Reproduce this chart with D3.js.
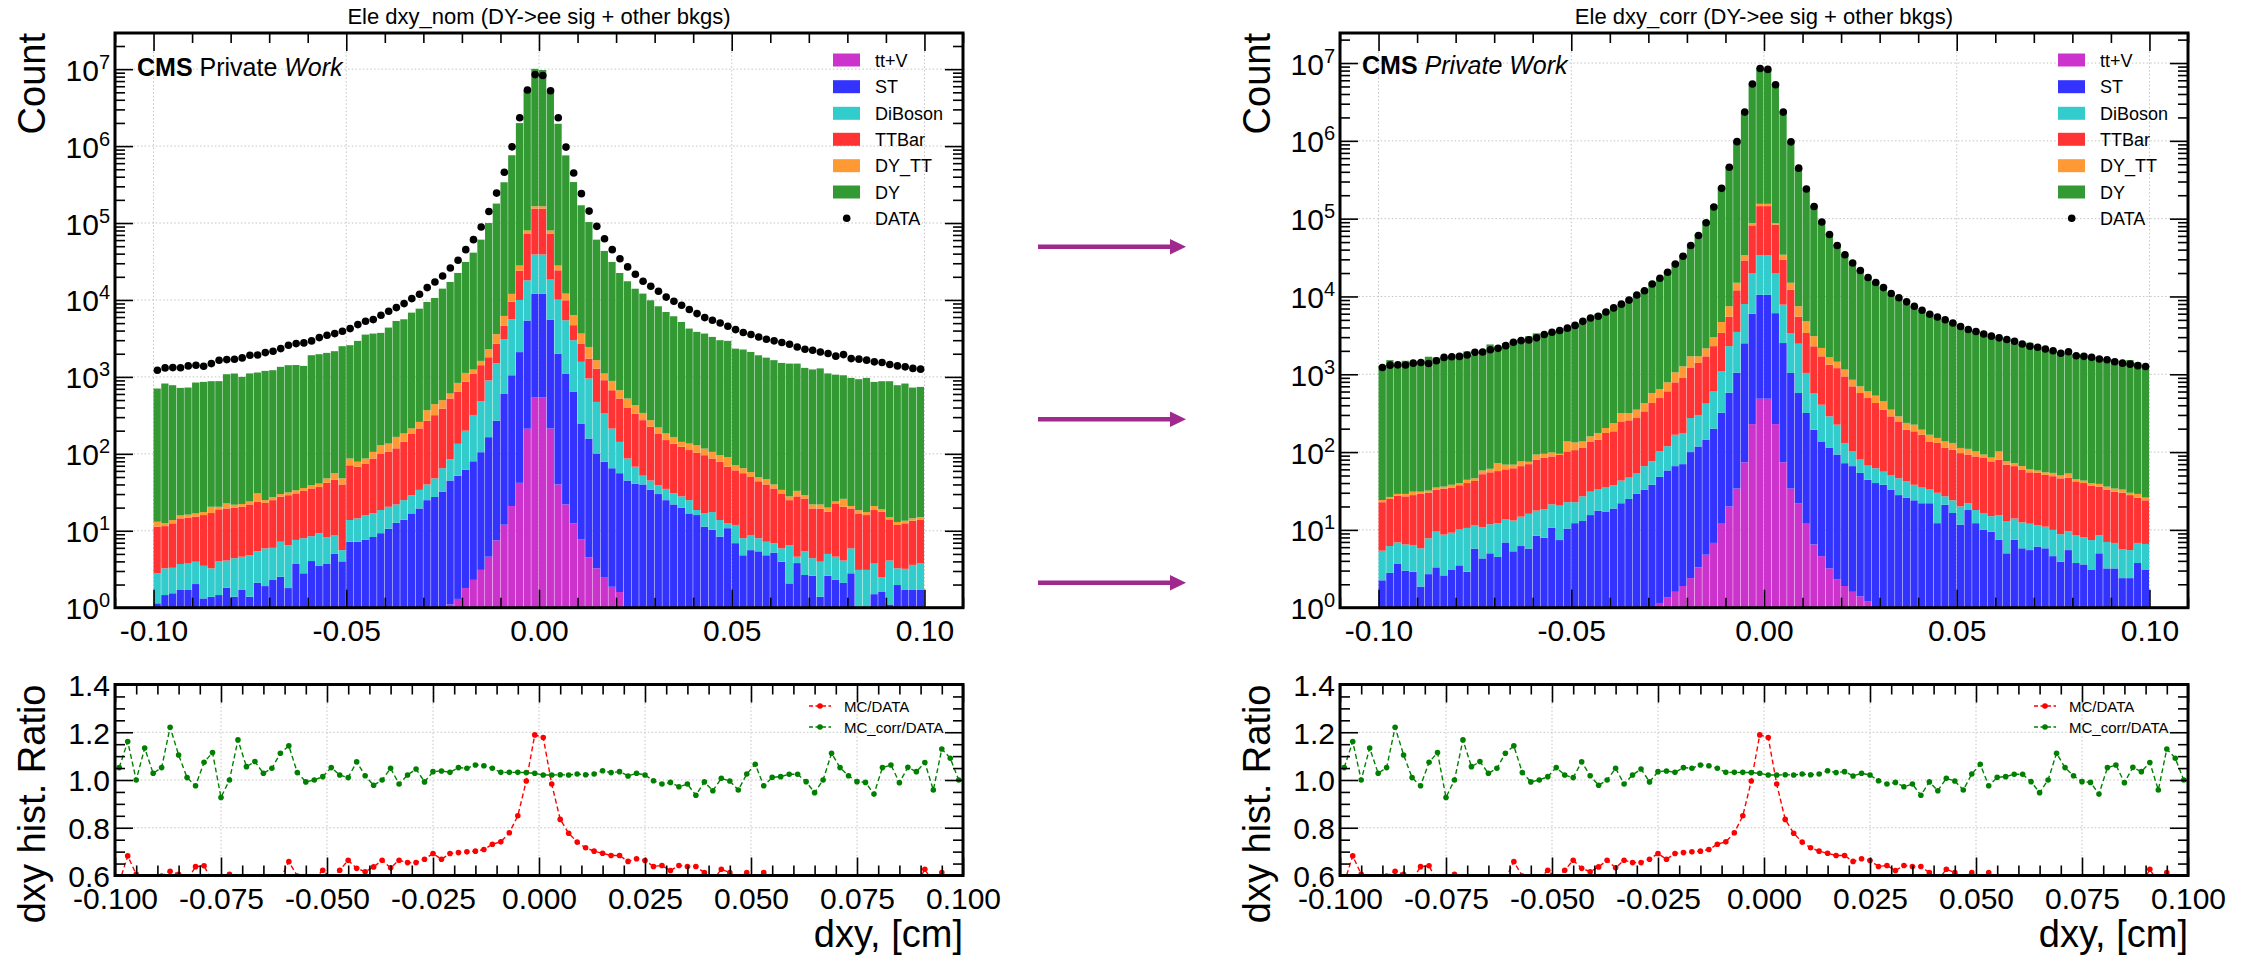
<!DOCTYPE html>
<html><head><meta charset="utf-8">
<script src="https://cdn.jsdelivr.net/npm/d3@7"></script>
<style>
body{margin:0;background:#fff;}
svg{display:block;}
text{font-family:"Liberation Sans",Arial,Helvetica,sans-serif;fill:#000;}
</style>
</head><body>
<svg id="chart" width="2252" height="960"></svg>
<script>
// ---------------- data ----------------
const binLo = -0.1, binHi = 0.1, nBins = 100;
const seriesNames = ["tt+V","ST","DiBoson","TTBar","DY_TT","DY"];
const seriesColors = ["#cc33cc","#3333ff","#33cccc","#ff3333","#ff9933","#339933"];
const legendLabels = ["tt+V","ST","DiBoson","TTBar","DY_TT","DY","DATA"];
const ratioLegendLabels = ["MC/DATA","MC_corr/DATA"];
const titles = ["Ele dxy_nom (DY->ee sig + other bkgs)","Ele dxy_corr (DY->ee sig + other bkgs)"];
const topXTicks = [-0.10,-0.05,0.00,0.05,0.10];
const topYTickExponents = [0,1,2,3,4,5,6,7];
const ratioXTicks = [-0.100,-0.075,-0.050,-0.025,0.000,0.025,0.050,0.075,0.100];
const ratioYTicks = [0.6,0.8,1.0,1.2,1.4];

const dataCounts = [
1222,1309,1321,1315,1390,1419,1377,1489,1648,1679,
1698,1766,1914,1930,2070,2153,2333,2582,2710,2767,
2938,3243,3475,3656,3917,4246,4786,5284,5559,6324,
7129,7962,8974,10423,11858,14488,17140,20512,26062,32810,
45082,60814,88716,141000,245000,457000,977000,2340000,5370000,8500000,
8280000,5250000,2340000,970000,446000,241000,143000,90600,62600,45100,
34400,26900,21600,17500,15100,13000,10900,9620,8530,7500,
6650,5900,5450,5020,4550,4120,3770,3550,3300,3090,
2940,2800,2660,2450,2290,2220,2110,2010,1860,1950,
1730,1700,1650,1570,1540,1450,1390,1350,1290,1260];

// nominal MC
const nomTTV = [
0,0,0,0,0,0,0,0,0,0,
0,0,0,0,0,0,0,0,0,0,
0,0,0,0,0,0,0,0,0,0,
0,0,0,0,0,0,0,0,1.1,1.3,
1.8,2.3,3.1,4.6,7.5,12,21,42,212,545,
540,214,40,22,12.5,7.7,4.5,3.25,2.5,1.87,
1.6,0,0,0,0,0,0,0,0,0,
0,0,0,0,0,0,0,0,0,0,
0,0,0,0,0,0,0,0,0,0,
0,0,0,0,0,0,0,0,0,0];
const nomST = [
1.14,1.46,1.54,1.7,1.7,2.03,1.32,1.39,1.46,1.82,
1.39,1.7,1.39,2.11,1.91,2.29,2.53,1.8,3.7,2.8,
4.04,3.48,3.7,5.0,4.0,7.2,7.2,7.6,8.3,9.3,
10.6,12.7,13.9,16.8,19.5,25,27.5,32,43.9,50.7,
60.2,77.7,101.9,160,262,588,1029,2058,5188,11555,
11560,5346,1970,1085,625,240,153.5,97.8,76.5,63.1,
54.4,45,41,40,34,30,25,22,20,16.8,
16,11.3,10.3,8.4,10.8,6.9,4.8,5.6,5.4,4.8,
5.2,3.96,2.07,3.8,2.66,2.6,1.39,2.6,2.3,2.1,
2.8,0,0.5,1.5,1.6,1.1,1.97,1.7,1.7,1.7];
const nomDiBoson = [
1.66,1.79,1.76,2.0,2.05,1.93,2.18,1.86,2.58,2.28,
3.01,2.9,3.41,3.29,3.99,3.71,4.67,4.7,3.9,5.2,
4.46,5.82,4.5,3.8,1.6,6.6,7.3,8.4,8.5,9.3,
9.9,9.3,11.1,12.2,14.5,15,20.5,33,40,83,
138,240,375,735,1230,2500,4550,7900,12600,26900,
26900,12840,8090,4343,2362,1322,795,372,255,148,
87,42,27,12,11,9,10,8.6,8,8.2,
2.6,5.5,7.2,5.4,1.8,5.0,3.2,3.2,2.6,2.4,
1.7,1.94,4.43,0.8,2.74,1.8,2.57,2.4,2.3,2.0,
3.1,3.1,2.6,2.25,0.9,3.0,1.28,1.5,1.9,2.05];
const nomTTBar = [
8.5,8.25,9.2,10.8,11.05,11.34,12.5,13.75,14.96,15.4,
15.6,15.9,17.2,18.6,17.1,19.0,20.5,22.5,23.0,25.0,
27.0,27.7,33.8,37.2,34.4,57.2,53.5,59,70.2,82.4,
85.5,96,118,155,180,229,270,323,439,505,
663,787,940,900,1200,1500,3900,14000,54000,115000,
115000,54600,14200,4450,1700,1145,777,810,572,458,
381,313,266,222,179,145,116,105,96,87,
84.4,79.2,69.5,65.2,55.4,49.1,48,41.2,36,32.8,
28.6,24.7,18.5,23.4,20.9,15.1,15.5,12.7,18.1,16.4,
13.6,13.7,12.9,14.85,15.2,9.7,8.65,9.3,9.9,10.05];
const nomDYTT = [
1.8,1.0,1.3,1.3,1.4,1.5,1.5,3.5,1.5,3.2,
1.8,1.8,2.0,6.6,2.0,2.3,2.3,2.5,2.9,3.0,
3.5,4.0,6.0,10,8,16,11,12,19,29,
30,48,41,30,46,100,124,110,84,196,
264,138,194,500,900,1600,2500,4000,8000,11000,
11000,7000,3700,2200,1640,945,720,365,201,216,
147,124,95,66,50,36,33,30,19,24,
27,21,19,17,23,10,9,8,6,7,
4.5,3.4,3,5,2.7,2.5,2.5,2.3,1.3,5.5,
1.5,1.7,1.5,2.4,1.3,1.2,1.1,1.0,1.0,1.2];
const nomDY = [
693,808,766,704,711,828,844,859,860,1061,
1085,978,1086,1109,1172,1195,1322,1388,1392,1354,
1875,1931,2003,2102,2458,2495,2859,3461,3550,3603,
4239,5169,5426,6631,7449,9050,10175,13530,16532,21604,
30063,39965,59196,97700,175400,332800,748000,1962000,5270000,9935000,
9585000,5070000,1922000,744900,334660,166340,100550,59150,42290,30310,
21730,16976,13571,11760,9626,8060,6796,5974,5037,4114,
3720,3543,3204,2904,2849,2259,2205,2052,1860,1733,
1610,1486,1462,1457,1281,1228,1268,1090,1046,1024,
950,915,953,840,860,864,767,806,712,726];

// corrected MC
const corrTTV = [
0,0,0,0,0,0,0,0,0,0,
0,0,0,0,0,0,0,0,0,0,
0,0,0,0,0,0,0,0,0,0,
0,0,0,0,0,0,1.15,1.35,1.6,1.9,
2.4,3.3,4.8,6.8,12,20,34,74,229,485,
485,229,74,34,22,12,6.5,4.6,3.2,2.3,
1.9,1.6,1.4,1.2,0,0,0,0,0,0,
0,0,0,0,0,0,0,0,0,0,
0,0,0,0,0,0,0,0,0,0,
0,0,0,0,0,0,0,0,0,0];
const corrST = [
2.25,2.8,3.7,3.0,2.9,1.87,2.7,3.3,2.6,3.1,
3.5,2.9,5.75,4.3,5.0,4.5,6.9,5.3,6.2,5.75,
8.4,7.9,10.7,7.4,10.4,12.2,13,15.5,17.7,17,
18.8,22,25,29,33,38,46.9,56.7,64.4,68.1,
97.6,114.7,140,193,308,560,1016,2426,5771,10015,
10015,5871,2446,1006,552,306,187.5,132.4,109.8,90.7,
70.1,64.4,52.6,42.8,40,38,33,28,26,24,
22,22,12.2,21,16.5,11.7,18,12.2,10,9.5,
7.5,5.0,7.5,5.8,5.5,6.1,5.8,4.6,3.9,5.5,
3.75,3.6,3.1,5.0,3.2,3.2,2.4,2.4,3.75,3.1];
const corrDiBoson = [
3.15,3.4,3.2,3.5,3.5,3.93,5.1,6.2,6.1,6.1,
6.6,7.7,5.65,6.5,6.8,7.7,6.9,7.9,8.6,10.35,
9.3,10.6,10.6,13.1,12.3,10.5,14,15.5,15.3,18,
18.7,21,22,24,33,38,54,61,101,106,
174,182,275,400,780,1720,2450,5500,14000,23500,
23500,13900,5330,2350,1896,722,380,269,175,132,
59,36,26,23,22,18,17,18,16,14,
13,11,17.8,6,7.5,8.3,4,5.8,6.5,5.5,
8,8,6.5,6.7,6.5,5.4,5.2,5.4,4.9,4.1,
4.85,4.4,4.3,3.5,3.8,3.6,3.2,3.1,3.05,3.5];
const corrTTBar = [
17.3,18.8,20.5,20.5,21.6,23.2,22.2,23.5,25.3,25.8,
27.4,29.4,31.1,41.2,43.2,44.8,46.2,48.8,51.2,53.9,
62.3,66.5,66.7,71.5,79.3,83.3,86,106,111,141,
147.5,205,209,221,268,351,393,485,621,719,
931,1100,1280,1700,2300,3200,8500,21000,62000,111000,
111000,64000,21850,8810,3030,2350,1716,1294,1042,975,
809,598,494,428,365,295,238,202,152,147,
132,104,101,86,83,77,71,70,67.5,61,
64.5,56,52,46.5,43,42.5,40,39,37.2,37.4,
33.4,32,29.6,27.5,26,24.2,24.4,22.5,19.2,17.4];
const corrDYTT = [
1.5,1.5,1.6,2.0,3.0,2.0,2.0,2.0,2.0,3.0,
2.5,4.0,3.5,6.0,6.0,15,9,7,10,5,
13,10,11,3,35,27,24,22,32,28,
51,70,62,77,93,148,152,184,271,370,
495,300,450,700,1300,2000,3000,5000,6000,10000,
10000,4000,4700,2800,2000,1400,800,480,320,250,
210,150,126,108,104,98,63,40,43,40,
27,30,21,24,24,16,17,14,9,9,
22,7,6,7,5,4,4,5,4,6,
3,3,3,3,3,3,3,2,3,2];
const corrDY = [
1262,1494,1292,1462,1398,1462,1649,1610,1628,1601,
1784,1925,1728,1872,2357,2202,2444,2585,2767,3002,
3265,3249,3348,3561,3835,4334,4749,5178,5805,6234,
6736,7644,9096,9895,11680,14579,16356,20442,25993,32595,
45726,62094,92155,146460,252300,464100,993000,2381000,5448000,8583000,
8299000,5272000,2357000,975000,449650,241500,143480,91950,62890,45230,
33835,26800,21354,16845,14312,12421,10244,9168,7747,7215,
6157,5774,5276,4672,4533,4279,3570,3487,3253,3079,
2909,2704,2447,2384,2486,2277,2093,1942,1791,1782,
1775,1764,1592,1614,1558,1522,1299,1496,1378,1234];

// ratio panel series
const ratioMC = [
0.57,0.682,0.605,0.56,0.58,0.598,0.618,0.605,0.58,0.637,
0.641,0.57,0.58,0.605,0.56,0.57,0.58,0.56,0.575,0.585,
0.658,0.598,0.57,0.585,0.622,0.59,0.622,0.664,0.63,0.616,
0.636,0.664,0.632,0.664,0.654,0.654,0.668,0.692,0.668,0.692,
0.696,0.699,0.702,0.709,0.731,0.741,0.779,0.85,0.996,1.189,
1.178,0.983,0.835,0.777,0.74,0.716,0.702,0.693,0.684,0.684,
0.659,0.67,0.663,0.638,0.642,0.621,0.642,0.638,0.638,0.612,
0.58,0.626,0.612,0.59,0.612,0.585,0.612,0.58,0.57,0.575,
0.56,0.57,0.585,0.57,0.565,0.58,0.575,0.56,0.57,0.56,
0.57,0.565,0.58,0.575,0.56,0.626,0.57,0.612,0.58,0.59];
const ratioMCcorr = [
1.052,1.161,1.0,1.134,1.028,1.052,1.221,1.105,1.01,0.976,
1.074,1.115,0.927,1.0,1.168,1.056,1.077,1.028,1.049,1.112,
1.143,1.031,0.992,1.0,1.014,1.052,1.021,1.01,1.076,1.018,
0.978,1.0,1.049,0.983,1.021,1.046,0.992,1.035,1.038,1.032,
1.052,1.049,1.063,1.06,1.049,1.032,1.032,1.032,1.031,1.028,
1.021,1.021,1.022,1.021,1.025,1.022,1.025,1.039,1.031,1.035,
1.017,1.028,1.021,0.997,0.983,0.99,0.972,0.983,0.936,0.992,
0.955,1.007,0.996,0.958,1.025,1.066,0.976,1.011,1.014,1.024,
1.024,0.993,0.947,1.0,1.112,1.052,1.018,0.993,0.99,0.941,
1.052,1.063,0.989,1.053,1.035,1.073,0.958,1.13,1.091,1.0];

// ---------------- drawing ----------------
const svg = d3.select("#chart");
svg.append("rect").attr("width",2252).attr("height",960).attr("fill","#fff");

const edges = d3.range(nBins + 1).map(i => binLo + i * (binHi - binLo) / nBins);
const centers = d3.range(nBins).map(i => (edges[i] + edges[i + 1]) / 2);

function drawPanel(cfg) {
  const g = svg.append("g").attr("transform", `translate(${cfg.ox},0)`);
  const T = {l: 115, r: 963, t: 33, b: 607.7};
  const R = {l: 115, r: 963, t: 684.5, b: 875.5};
  const x = d3.scaleLinear().domain([-0.11, 0.11]).range([T.l, T.r]);
  const y = d3.scaleLog().domain([1, Math.pow(10, cfg.yTopExp)]).range([T.b, T.t]).clamp(true);
  const ly = v => y(Math.max(v, 1e-6));
  const xr = d3.scaleLinear().domain([-0.1, 0.1]).range([R.l, R.r]);
  const yr = d3.scaleLinear().domain([0.6, 1.4]).range([R.b, R.t]);

  const defs = g.append("defs");
  defs.append("clipPath").attr("id", "ct" + cfg.id).append("rect")
    .attr("x", T.l).attr("y", T.t).attr("width", T.r - T.l).attr("height", T.b - T.t);
  defs.append("clipPath").attr("id", "cr" + cfg.id).append("rect")
    .attr("x", R.l).attr("y", R.t).attr("width", R.r - R.l).attr("height", R.b - R.t);

  const gridStyle = sel => sel.attr("stroke", "#c4c4c4").attr("stroke-width", 1).attr("stroke-dasharray", "1.5,2.2");

  // ---- top grid
  topXTicks.forEach(v => g.append("line").attr("x1", x(v)).attr("x2", x(v)).attr("y1", T.t).attr("y2", T.b).call(gridStyle));
  topYTickExponents.forEach(e => g.append("line").attr("x1", T.l).attr("x2", T.r).attr("y1", y(Math.pow(10, e))).attr("y2", y(Math.pow(10, e))).call(gridStyle));

  // ---- stacked bars
  const rows = d3.range(nBins).map(i => {
    const o = {i};
    seriesNames.forEach((n, k) => o[n] = cfg.series[k][i]);
    return o;
  });
  const stacked = d3.stack().keys(seriesNames)(rows);
  const barG = g.append("g").attr("clip-path", `url(#ct${cfg.id})`);
  stacked.forEach((layer, k) => {
    barG.append("g").selectAll("rect").data(layer).join("rect")
      .attr("x", d => x(edges[d.data.i]))
      .attr("width", d => x(edges[d.data.i + 1]) - x(edges[d.data.i]) - 0.45)
      .attr("y", d => ly(d[1]))
      .attr("height", d => Math.max(0, ly(d[0]) - ly(d[1])))
      .attr("fill", seriesColors[k]);
  });

  // ---- data points
  g.append("g").attr("clip-path", `url(#ct${cfg.id})`).selectAll("circle").data(dataCounts).join("circle")
    .attr("cx", (d, i) => x(centers[i])).attr("cy", d => ly(d)).attr("r", 3.8).attr("fill", "#000");

  // ---- top ticks (inward, all four sides)
  const majorLen = 18, minorLen = 10;
  const minorX = d3.range(-11, 12).map(k => k / 100).filter(v => !topXTicks.some(t => Math.abs(t - v) < 1e-9));
  const styleAxis = (sel) => { sel.select(".domain").remove(); sel.selectAll("line").attr("stroke", "#000").attr("stroke-width", 1.6); };
  g.append("g").attr("transform", `translate(0,${T.b})`)
    .call(d3.axisBottom(x).tickValues(topXTicks).tickSize(-majorLen).tickPadding(12).tickFormat(v => v.toFixed(2)))
    .call(styleAxis).call(s => s.selectAll("text").attr("font-size", 30).attr("font-family", "Liberation Sans, Arial, sans-serif").attr("fill", "#000"));
  g.append("g").attr("transform", `translate(0,${T.b})`)
    .call(d3.axisBottom(x).tickValues(minorX).tickSize(-minorLen).tickFormat("")).call(styleAxis);
  g.append("g").attr("transform", `translate(0,${T.t})`)
    .call(d3.axisTop(x).tickValues(topXTicks).tickSize(-majorLen).tickFormat("")).call(styleAxis);
  g.append("g").attr("transform", `translate(0,${T.t})`)
    .call(d3.axisTop(x).tickValues(minorX).tickSize(-minorLen).tickFormat("")).call(styleAxis);

  const yMajor = topYTickExponents.map(e => Math.pow(10, e));
  const yMinor = [];
  for (let e = 0; e <= 7; e++) for (let m = 2; m <= 9; m++) { const v = m * Math.pow(10, e); if (v <= Math.pow(10, cfg.yTopExp)) yMinor.push(v); }
  [["axisLeft", T.l], ["axisRight", T.r]].forEach(([fn, px]) => {
    g.append("g").attr("transform", `translate(${px},0)`)
      .call(d3[fn](y).tickValues(yMajor).tickSize(-majorLen).tickFormat("")).call(styleAxis);
    g.append("g").attr("transform", `translate(${px},0)`)
      .call(d3[fn](y).tickValues(yMinor).tickSize(-minorLen).tickFormat("")).call(styleAxis);
  });
  topYTickExponents.forEach(e => {
    const t = g.append("text").attr("x", T.l - 5).attr("y", y(Math.pow(10, e)) + 11.5)
      .attr("text-anchor", "end").attr("font-size", 30);
    t.append("tspan").text("10");
    t.append("tspan").attr("dy", -12).attr("font-size", 20).text(e);
  });

  // frame
  g.append("rect").attr("x", T.l).attr("y", T.t).attr("width", T.r - T.l).attr("height", T.b - T.t)
    .attr("fill", "none").attr("stroke", "#000").attr("stroke-width", 3);

  // title
  g.append("text").attr("x", (T.l + T.r) / 2).attr("y", 24).attr("text-anchor", "middle")
    .attr("font-size", 22).text(cfg.title);

  // CMS label
  const cms = g.append("text").attr("x", 137).attr("y", cfg.cmsY).attr("font-size", 25);
  cms.append("tspan").attr("font-weight", "bold").text("CMS");
  if (cfg.italicPrivate) {
    cms.append("tspan").attr("font-style", "italic").text(" Private Work");
  } else {
    cms.append("tspan").text(" Private ");
    cms.append("tspan").attr("font-style", "italic").text("Work");
  }

  // y label
  g.append("text").attr("transform", `translate(45,${T.t}) rotate(-90)`).attr("text-anchor", "end")
    .attr("font-size", 38).text("Count");

  // legend
  const legRows = [60, 86.7, 113.3, 139.3, 165.7, 192, 218.3];
  const legOrder = [0, 1, 2, 3, 4, 5];
  legOrder.forEach((k, r) => {
    g.append("rect").attr("x", 833).attr("y", legRows[r] - 6.5).attr("width", 27).attr("height", 13).attr("fill", seriesColors[k]);
    g.append("text").attr("x", 875).attr("y", legRows[r] + 6.5).attr("font-size", 18).text(legendLabels[r]);
  });
  g.append("circle").attr("cx", 846.7).attr("cy", legRows[6]).attr("r", 3.8).attr("fill", "#000");
  g.append("text").attr("x", 875).attr("y", legRows[6] + 6.5).attr("font-size", 18).text(legendLabels[6]);

  // ================= ratio =================
  ratioXTicks.forEach(v => g.append("line").attr("x1", xr(v)).attr("x2", xr(v)).attr("y1", R.t).attr("y2", R.b).call(gridStyle));
  ratioYTicks.forEach(v => g.append("line").attr("x1", R.l).attr("x2", R.r).attr("y1", yr(v)).attr("y2", yr(v)).call(gridStyle));

  const rG = g.append("g").attr("clip-path", `url(#cr${cfg.id})`);
  const ratioSeries = [[ratioMC, "#ff0000"], [ratioMCcorr, "#008000"]];
  const line = d3.line().x((d, i) => xr(centers[i])).y(d => yr(d));
  ratioSeries.forEach(([arr, col]) => {
    rG.append("path").datum(arr).attr("d", line).attr("fill", "none").attr("stroke", col)
      .attr("stroke-width", 1.4).attr("stroke-dasharray", "5,3");
    rG.append("g").selectAll("circle").data(arr).join("circle")
      .attr("cx", (d, i) => xr(centers[i])).attr("cy", d => yr(d)).attr("r", 2.8).attr("fill", col);
  });

  const rMinorX = d3.range(-20, 21).map(k => k * 0.005).filter(v => !ratioXTicks.some(t => Math.abs(t - v) < 1e-9));
  const rMinorY = d3.range(12, 29).map(k => k * 0.05).filter(v => !ratioYTicks.some(t => Math.abs(t - v) < 1e-9));
  g.append("g").attr("transform", `translate(0,${R.b})`)
    .call(d3.axisBottom(xr).tickValues(ratioXTicks).tickSize(-majorLen).tickPadding(12).tickFormat(v => v.toFixed(3)))
    .call(styleAxis).call(s => s.selectAll("text").attr("font-size", 30).attr("font-family", "Liberation Sans, Arial, sans-serif").attr("fill", "#000"));
  g.append("g").attr("transform", `translate(0,${R.b})`)
    .call(d3.axisBottom(xr).tickValues(rMinorX).tickSize(-minorLen).tickFormat("")).call(styleAxis);
  g.append("g").attr("transform", `translate(0,${R.t})`)
    .call(d3.axisTop(xr).tickValues(ratioXTicks).tickSize(-majorLen).tickFormat("")).call(styleAxis);
  g.append("g").attr("transform", `translate(0,${R.t})`)
    .call(d3.axisTop(xr).tickValues(rMinorX).tickSize(-minorLen).tickFormat("")).call(styleAxis);
  g.append("g").attr("transform", `translate(${R.l},0)`)
    .call(d3.axisLeft(yr).tickValues(ratioYTicks).tickSize(-majorLen).tickPadding(5).tickFormat(v => v.toFixed(1)))
    .call(styleAxis).call(s => s.selectAll("text").attr("font-size", 30).attr("font-family", "Liberation Sans, Arial, sans-serif").attr("fill", "#000").attr("dy", "0.36em"));
  g.append("g").attr("transform", `translate(${R.l},0)`)
    .call(d3.axisLeft(yr).tickValues(rMinorY).tickSize(-minorLen).tickFormat("")).call(styleAxis);
  g.append("g").attr("transform", `translate(${R.r},0)`)
    .call(d3.axisRight(yr).tickValues(ratioYTicks).tickSize(-majorLen).tickFormat("")).call(styleAxis);
  g.append("g").attr("transform", `translate(${R.r},0)`)
    .call(d3.axisRight(yr).tickValues(rMinorY).tickSize(-minorLen).tickFormat("")).call(styleAxis);

  g.append("rect").attr("x", R.l).attr("y", R.t).attr("width", R.r - R.l).attr("height", R.b - R.t)
    .attr("fill", "none").attr("stroke", "#000").attr("stroke-width", 3);

  // ratio legend
  const rLegY = [706, 727];
  ratioSeries.forEach(([arr, col], k) => {
    g.append("line").attr("x1", 809).attr("x2", 831).attr("y1", rLegY[k]).attr("y2", rLegY[k])
      .attr("stroke", col).attr("stroke-width", 1.4).attr("stroke-dasharray", "4,2.5");
    g.append("circle").attr("cx", 820).attr("cy", rLegY[k]).attr("r", 2.8).attr("fill", col);
    g.append("text").attr("x", 844).attr("y", rLegY[k] + 5.5).attr("font-size", 15).attr("fill", "#333").text(ratioLegendLabels[k]);
  });

  // ratio labels
  g.append("text").attr("transform", `translate(45,${R.t}) rotate(-90)`).attr("text-anchor", "end")
    .attr("font-size", 38).text("dxy hist. Ratio");
  g.append("text").attr("x", R.r).attr("y", 947).attr("text-anchor", "end")
    .attr("font-size", 38).text("dxy, [cm]");
}

drawPanel({id: 0, ox: 0, yTopExp: 7.47, title: titles[0], cmsY: 76, italicPrivate: false,
  series: [nomTTV, nomST, nomDiBoson, nomTTBar, nomDYTT, nomDY]});
drawPanel({id: 1, ox: 1225, yTopExp: 7.386, title: titles[1], cmsY: 74, italicPrivate: true,
  series: [corrTTV, corrST, corrDiBoson, corrTTBar, corrDYTT, corrDY]});

// arrows between panels
const arrowYs = [246.7, 419.3, 582.7];
const arrowColor = "#a0298f";
arrowYs.forEach(ay => {
  svg.append("line").attr("x1", 1038).attr("x2", 1174).attr("y1", ay).attr("y2", ay)
    .attr("stroke", arrowColor).attr("stroke-width", 4.5);
  svg.append("path").attr("d", `M1170,${ay - 7.7} L1186,${ay} L1170,${ay + 7.7} Z`).attr("fill", arrowColor);
});
</script>
</body></html>
